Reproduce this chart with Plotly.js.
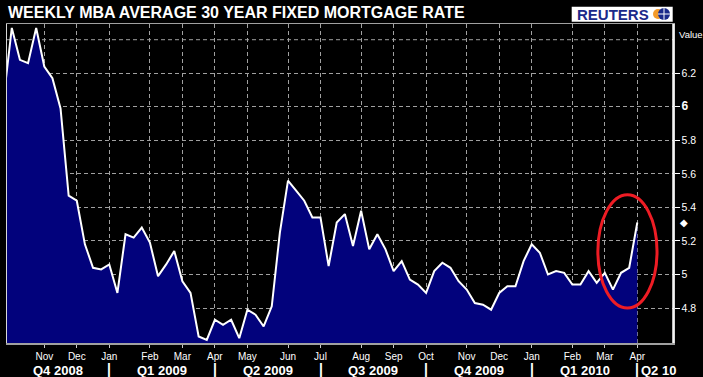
<!DOCTYPE html>
<html>
<head>
<meta charset="utf-8">
<script src="https://cdn.plot.ly/plotly-3.0.1.min.js"></script>
<style>html,body{margin:0;padding:0;background:#000;}#chart{width:703px;height:377px;}</style>
</head>
<body>
<div id="chart"></div>
<script>
// Weekly dates (week ending Friday)
const weekDates = [
 '2008-10-03','2008-10-10','2008-10-17','2008-10-24','2008-10-31',
 '2008-11-07','2008-11-14','2008-11-21','2008-11-28',
 '2008-12-05','2008-12-12','2008-12-19','2008-12-26',
 '2009-01-02','2009-01-09','2009-01-16','2009-01-23','2009-01-30',
 '2009-02-06','2009-02-13','2009-02-20','2009-02-27',
 '2009-03-06','2009-03-13','2009-03-20','2009-03-27',
 '2009-04-03','2009-04-10','2009-04-17','2009-04-24',
 '2009-05-01','2009-05-08','2009-05-15','2009-05-22','2009-05-29',
 '2009-06-05','2009-06-12','2009-06-19','2009-06-26',
 '2009-07-03','2009-07-10','2009-07-17','2009-07-24','2009-07-31',
 '2009-08-07','2009-08-14','2009-08-21','2009-08-28',
 '2009-09-04','2009-09-11','2009-09-18','2009-09-25',
 '2009-10-02','2009-10-09','2009-10-16','2009-10-23','2009-10-30',
 '2009-11-06','2009-11-13','2009-11-20','2009-11-27',
 '2009-12-04','2009-12-11','2009-12-18','2009-12-25',
 '2010-01-01','2010-01-08','2010-01-15','2010-01-22','2010-01-29',
 '2010-02-05','2010-02-12','2010-02-19','2010-02-26',
 '2010-03-05','2010-03-12','2010-03-19','2010-03-26',
 '2010-04-02'
];
// MBA average 30-year fixed mortgage rate (%)
const rateValues = [
 6.05,6.47,6.28,6.26,6.47,
 6.24,6.17,5.99,5.47,
 5.44,5.18,5.04,5.03,
 5.06,4.89,5.24,5.22,5.28,
 5.19,4.99,5.06,5.14,
 4.96,4.89,4.63,4.61,
 4.73,4.70,4.73,4.62,
 4.79,4.76,4.69,4.81,5.25,
 5.56,5.50,5.44,5.34,
 5.34,5.05,5.31,5.36,5.17,
 5.38,5.15,5.24,5.15,
 5.02,5.08,4.97,4.94,
 4.89,5.02,5.07,5.04,4.96,
 4.91,4.83,4.82,4.79,
 4.89,4.93,4.93,5.08,
 5.18,5.13,5.00,5.02,5.01,
 4.94,4.94,5.02,4.95,
 5.01,4.91,5.01,5.04,
 5.31
];
// Month tick labels (at first weekly reading of each month)
const monthTickDates = ['2008-11-07','2008-12-05','2009-01-02','2009-02-06','2009-03-06','2009-04-03',
 '2009-05-01','2009-06-05','2009-07-03','2009-08-07','2009-09-04','2009-10-02','2009-11-06',
 '2009-12-04','2010-01-01','2010-02-05','2010-03-05','2010-04-02'];
const monthTickLabels = ['Nov','Dec','Jan','Feb','Mar','Apr','May','Jun','Jul','Aug','Sep','Oct','Nov','Dec','Jan','Feb','Mar','Apr'];
// Quarter bands
const quarterStarts = ['2009-01-02','2009-04-03','2009-07-03','2009-10-02','2010-01-01','2010-04-02'];
const quarterLabels = ['Q4 2008','Q1 2009','Q2 2009','Q3 2009','Q4 2009','Q1 2010','Q2 10'];
// Y ticks
const yTickVals = [4.8,5.0,5.2,5.4,5.6,5.8,6.0,6.2];
const yTickText = ['4.8','5','5.2','5.4','5.6','5.8','<b><span style="font-size:12px">6</span></b>','6.2'];

const W=703,H=377,ML=7,MR=30,MT=24,MB=34;
const PW=W-ML-MR, PH=H-MT-MB;
const px = x => (x-ML)/PW;
const py = y => (MT+PH-y)/PH;
const xRange = ['2008-10-05 20:40','2010-05-02 18:00'];
const yRange = [4.5915,6.4937];
const FONT = 'Liberation Sans, Arial, sans-serif';
const grid = '#a0a0a0';

function midDate(a,b){
  const da=new Date(a.replace(' ','T')+(a.length>10?'':'T00:00')+'Z').getTime();
  const db=new Date(b+'T00:00Z').getTime();
  return new Date((da+db)/2).toISOString().slice(0,16).replace('T',' ');
}

const annotations = [];
const qBounds = [xRange[0]].concat(quarterStarts);
for(let i=0;i<quarterLabels.length-1;i++){
  annotations.push({xref:'x',yref:'paper',x:midDate(qBounds[i],qBounds[i+1]),y:py(370),
    text:'<b>'+quarterLabels[i]+'</b>',showarrow:false,xanchor:'center',yanchor:'middle',
    font:{family:FONT,size:13,color:'#ffffff'}});
}
annotations.push({xref:'x',yref:'paper',x:quarterStarts[quarterStarts.length-1],y:py(370),
  text:'<b>'+quarterLabels[quarterLabels.length-1]+'</b>',showarrow:false,xanchor:'left',xshift:2,yanchor:'middle',
  font:{family:FONT,size:13,color:'#ffffff'}});
quarterStarts.forEach(d=>{
  annotations.push({xref:'x',yref:'paper',x:d,y:py(369),text:'<b>|</b>',showarrow:false,
    xanchor:'center',yanchor:'middle',font:{family:FONT,size:14,color:'#ffffff'}});
});
annotations.push({xref:'paper',yref:'paper',x:px(677),y:py(34),text:'Value',showarrow:false,
  xanchor:'left',yanchor:'middle',font:{family:FONT,size:9.5,color:'#ffffff'}});
annotations.push({xref:'paper',yref:'y',x:px(678),y:rateValues[rateValues.length-1],text:'◆',showarrow:false,
  xanchor:'left',yanchor:'middle',font:{family:'DejaVu Sans',size:10,color:'#ffffff'}});
annotations.push({xref:'paper',yref:'paper',x:px(575),y:py(14.5),text:'<b>REUTERS</b>',showarrow:false,
  xanchor:'left',yanchor:'middle',font:{family:FONT,size:15,color:'#1b2a8a'}});

const shapes = [
  {type:'line',xref:'paper',yref:'y',x0:0,x1:1,y0:6.4,y1:6.4,line:{color:grid,width:1,dash:'4px,3px'},layer:'below'},
  {type:'circle',xref:'x',yref:'y',x0:'2010-02-27',x1:'2010-04-19',y0:4.80,y1:5.475,line:{color:'#ee1c24',width:3}},
  {type:'rect',xref:'paper',yref:'paper',x0:px(571.7),x1:px(672.7),y0:py(21.7),y1:py(6.7),fillcolor:'#ffffff',line:{width:0},layer:'below'},
  {type:'circle',xref:'paper',yref:'paper',x0:px(653),x1:px(663),y0:py(19),y1:py(9),fillcolor:'#f39a2a',line:{width:0}},
  {type:'circle',xref:'paper',yref:'paper',x0:px(658),x1:px(670),y0:py(20),y1:py(8),fillcolor:'#1b2a8a',line:{width:0}},
  {type:'line',xref:'paper',yref:'paper',x0:px(664),x1:px(664),y0:py(20),y1:py(8),line:{color:'#ffffff',width:1}},
  {type:'line',xref:'paper',yref:'paper',x0:px(658),x1:px(670),y0:py(14),y1:py(14),line:{color:'#ffffff',width:1}},
  {type:'line',xref:'paper',yref:'paper',x0:1,x1:1,y0:0,y1:1,line:{color:'#ffffff',width:1.5}}
];

const trace = {
  x: weekDates, y: rateValues, type:'scatter', mode:'lines',
  line:{color:'#ffffff',width:2}, fill:'tozeroy', fillcolor:'#02027c',
  hoverinfo:'skip'
};

const layout = {
  width:W,height:H,
  paper_bgcolor:'#000000',plot_bgcolor:'#000000',
  margin:{l:ML,r:MR,t:MT,b:MB,pad:0},
  showlegend:false,
  font:{family:FONT,color:'#ffffff'},
  title:{text:'WEEKLY MBA AVERAGE 30 YEAR FIXED MORTGAGE RATE',xref:'container',yref:'container',
    x:8/W,xanchor:'left',y:1-12/H,yanchor:'middle',
    font:{family:FONT,size:16,color:'#ffffff',weight:'bold'}},
  xaxis:{type:'date',range:xRange,tickmode:'array',tickvals:monthTickDates,ticktext:monthTickLabels,
    showgrid:true,gridcolor:grid,gridwidth:1,griddash:'4px,3px',
    ticks:'outside',ticklen:3,tickcolor:'#c8c8c8',tickfont:{family:FONT,size:10,color:'#ffffff'},
    showline:true,linecolor:grid,linewidth:1.5,mirror:true,zeroline:false,fixedrange:true},
  yaxis:{range:yRange,side:'right',tickmode:'array',tickvals:yTickVals,ticktext:yTickText,
    showgrid:true,gridcolor:grid,gridwidth:1,griddash:'4px,3px',
    ticks:'outside',ticklen:5,tickcolor:'#ffffff',tickfont:{family:FONT,size:10.5,color:'#ffffff'},
    showline:true,linecolor:'#d8d8d8',linewidth:1.5,mirror:true,zeroline:false,fixedrange:true},
  shapes:shapes,
  annotations:annotations
};

Plotly.newPlot('chart',[trace],layout,{staticPlot:true,displayModeBar:false});
</script>
</body>
</html>
